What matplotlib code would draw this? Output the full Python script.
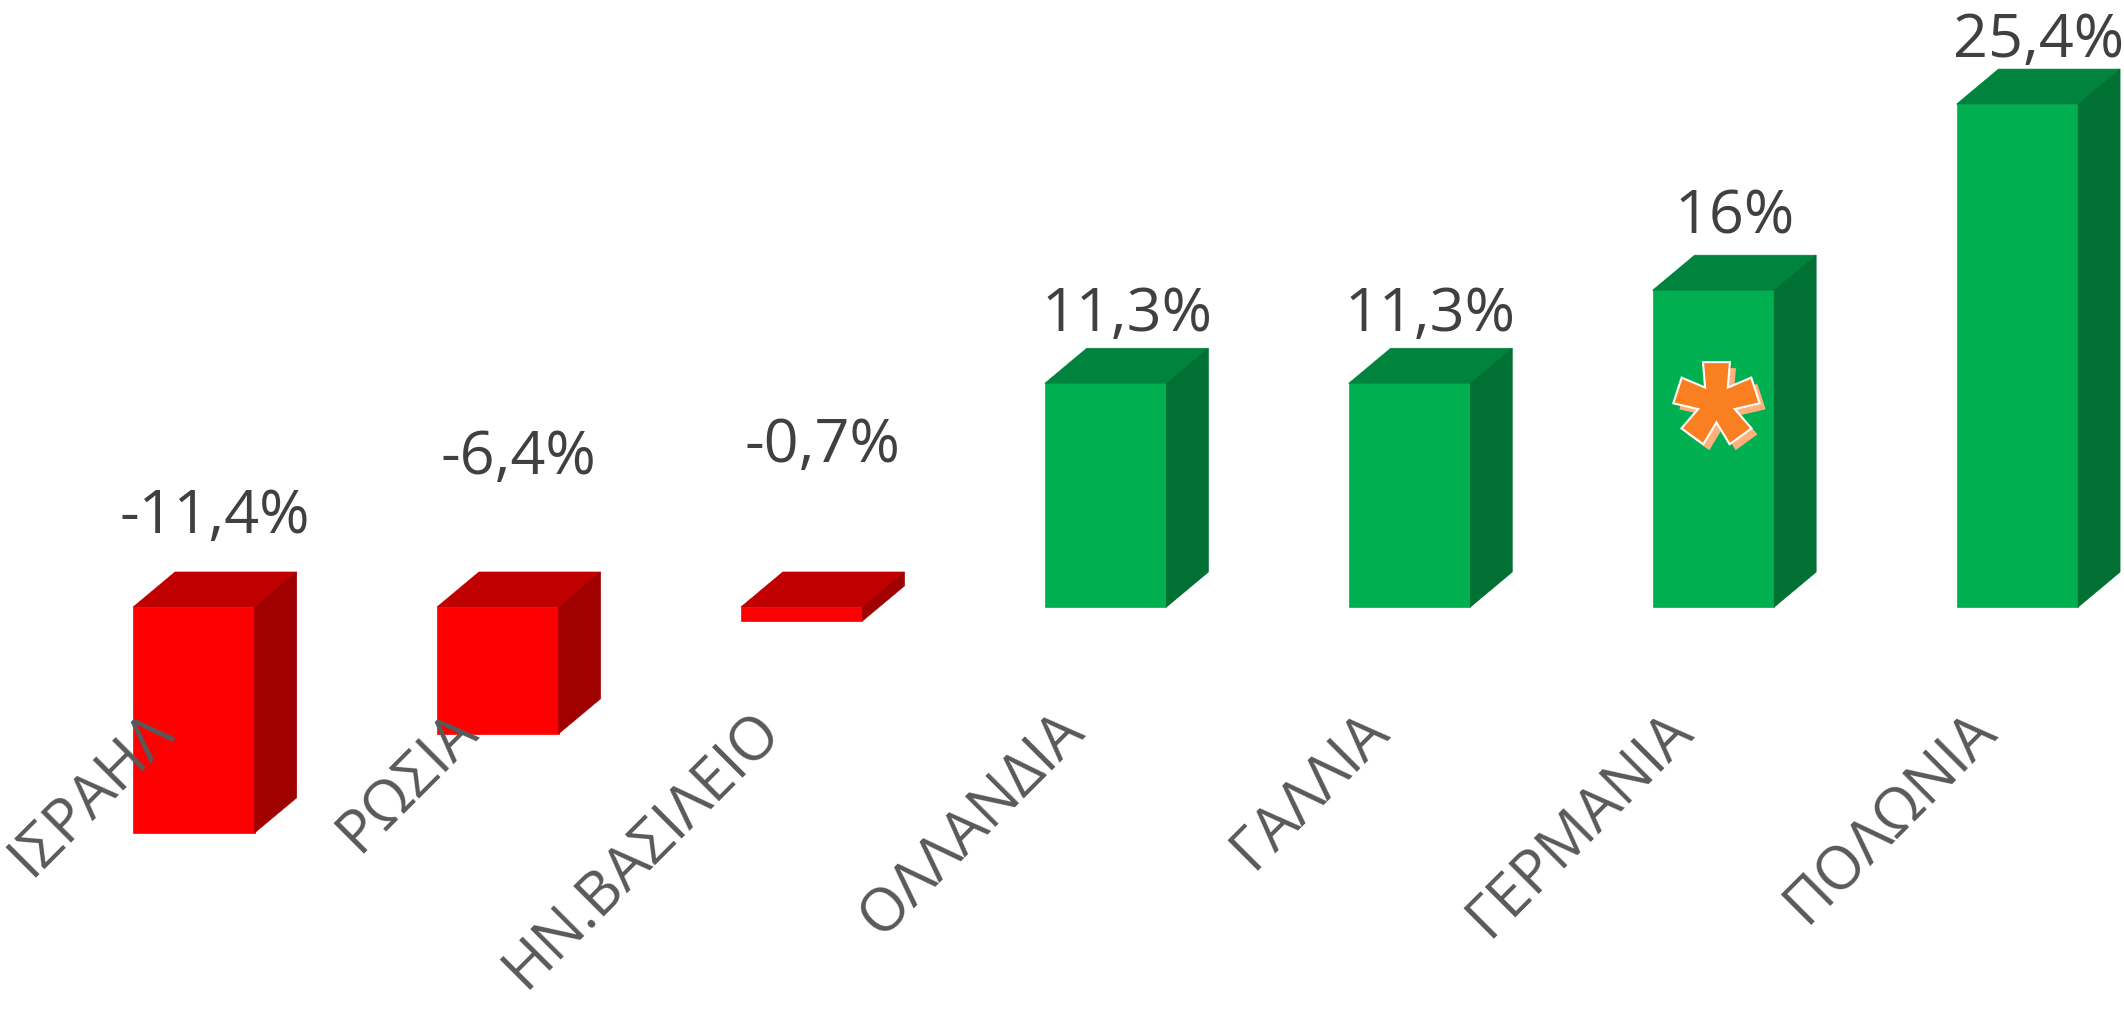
import numpy as np
import matplotlib
matplotlib.use("Agg")
import matplotlib.pyplot as plt
import matplotlib.transforms as mtransforms
from matplotlib.patches import Polygon

plt.rcParams['font.family'] = ['Open Sans', 'DejaVu Sans']

# data
countries = ["ΙΣΡΑΗΛ", "ΡΩΣΙΑ", "ΗΝ.ΒΑΣΙΛΕΙΟ", "ΟΛΛΑΝΔΙΑ", "ΓΑΛΛΙΑ", "ΓΕΡΜΑΝΙΑ", "ΠΟΛΩΝΙΑ"]
change = [-11.4, -6.4, -0.7, 11.3, 11.3, 16.0, 25.4]
value_labels = ["-11,4%", "-6,4%", "-0,7%", "11,3%", "11,3%", "16%", "25,4%"]
marked = "ΓΕΡΜΑΝΙΑ"
marker_height = 10.3   # where the asterisk sits on the marked bar

# layout
label_lift = [55, 114, 126, 33, 33, 38, 28]   # px above the top face
bar_w = 0.40
dx = 0.138     # depth of the 3d box, x (category units)
dy = 1.77      # depth of the 3d box, y (percent units)

red = ("#FF0000", "#C00000", "#A00000")
green = ("#00B050", "#00833C", "#007033")


def bar3d(ax, x, v, cols):
    front, top, side = cols
    x0, x1 = x - bar_w / 2, x + bar_w / 2
    lo, hi = min(0, v), max(0, v)
    ax.add_patch(Polygon([(x0, lo), (x1, lo), (x1, hi), (x0, hi)],
                         fc=front, ec=front, lw=0.5))
    ax.add_patch(Polygon([(x0, hi), (x1, hi), (x1 + dx, hi + dy), (x0 + dx, hi + dy)],
                         fc=top, ec=top, lw=0.5))
    ax.add_patch(Polygon([(x1, lo), (x1 + dx, lo + dy), (x1 + dx, hi + dy), (x1, hi)],
                         fc=side, ec=side, lw=0.5))


def asterisk(n=5, r=41.0, h_in=10.0, h_out=13.5):
    pts = []
    half = np.pi / n
    d = h_in / (np.sin(half) - (h_out - h_in) * np.cos(half) / r)
    for k in range(n):
        a = np.pi / 2 + 2 * np.pi * k / n
        u = np.array([np.cos(a), np.sin(a)])
        nrm = np.array([-np.sin(a), np.cos(a)])
        pts.append(r * u - h_out * nrm)
        pts.append(r * u + h_out * nrm)
        b = a + half
        pts.append(d * np.array([np.cos(b), np.sin(b)]))
    return np.array(pts)


fig = plt.figure(figsize=(21.24, 10.09), dpi=100)
ax = fig.add_axes([0, 0, 1, 1])
ax.set_xlim(-0.638, 6.351)
ax.set_ylim(-20.30, 30.66)
ax.axis('off')

for i, (name, v, lab) in enumerate(zip(countries, change, value_labels)):
    bar3d(ax, i, v, red if v < 0 else green)
    ax.annotate(lab, xy=(i + dx / 2, max(0, v) + dy), xytext=(0, label_lift[i]),
                textcoords='offset pixels', ha='center', va='center',
                fontsize=44, color="#404040")
    ax.annotate(name, xy=(i, 0), xytext=(-19, -126), textcoords='offset pixels',
                rotation=45, rotation_mode='anchor', ha='right', va='baseline',
                fontsize=43, color="#595959", zorder=5)

# asterisk on the marked bar
mi = countries.index(marked)
star = asterisk()
base = mtransforms.ScaledTranslation(mi + 0.01, marker_height, ax.transData)
shadow = mtransforms.Affine2D().translate(6, -6) + base
ax.add_patch(Polygon(star, closed=True, fc="#FFB07C", ec="none", transform=shadow, zorder=6))
ax.add_patch(Polygon(star, closed=True, fc="#FA7F20", ec="white", lw=1.5,
                     transform=mtransforms.Affine2D() + base, zorder=7))

fig.savefig("out.png", dpi=100)
